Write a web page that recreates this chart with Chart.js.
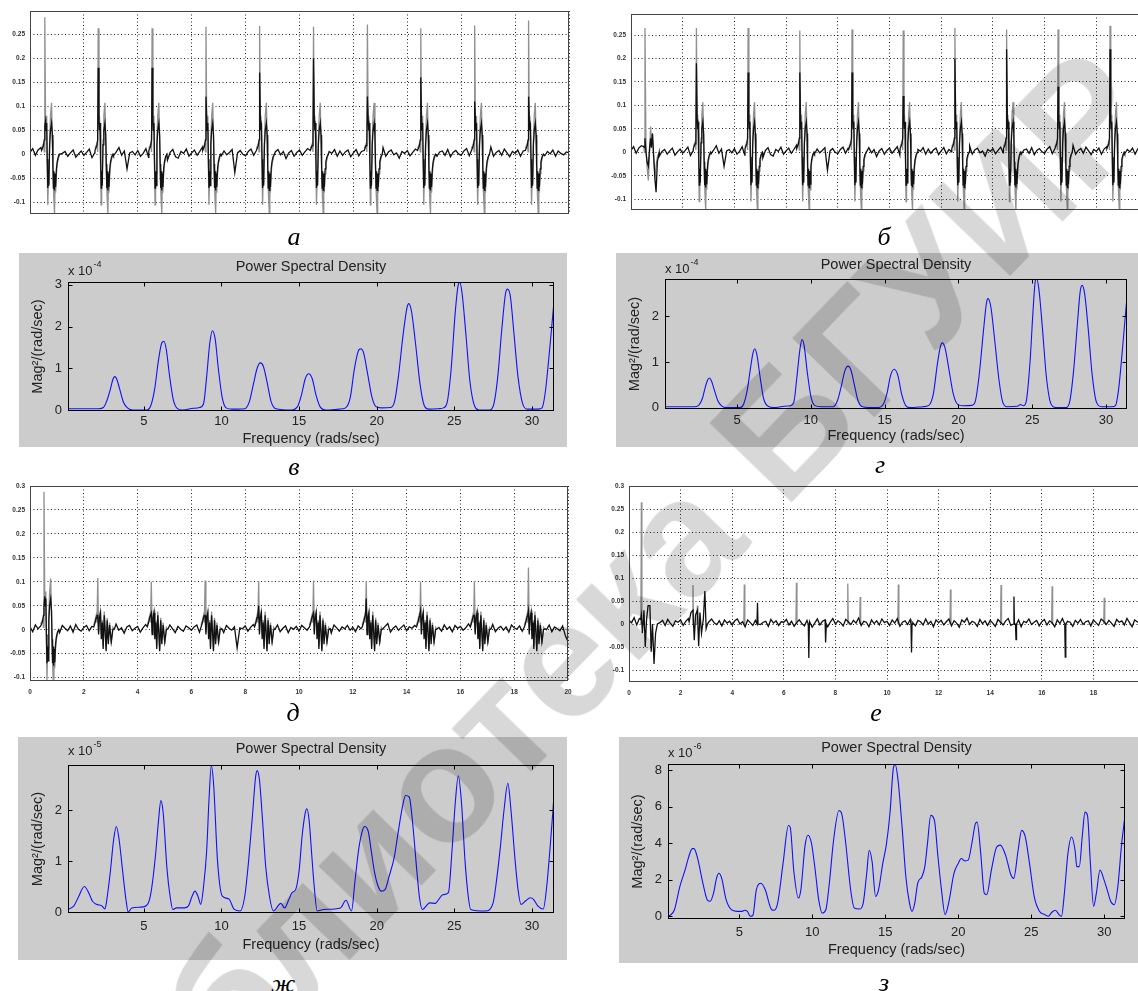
<!DOCTYPE html>
<html>
<head>
<meta charset="utf-8">
<script src="https://cdn.jsdelivr.net/npm/chart.js@4.4.1/dist/chart.umd.min.js"></script>
<style>
html, body { margin: 0; padding: 0; background: #fff; }
body { width: 1138px; height: 991px; overflow: hidden; position: relative; }
.panel { position: absolute; }
.psd { background: #cccccc; }
.cap { position: absolute; transform: translate(-50%, -50%); font-family: "Liberation Serif", "Times New Roman", serif; font-style: italic; font-size: 26px; color: #000; }
#wm { position: absolute; left: 580px; top: 640px; transform: translate(-50%, -50%) rotate(-46deg);
      font: bold 165px "Liberation Sans", Arial, sans-serif; color: #d8d8d8; white-space: nowrap;
      mix-blend-mode: multiply; pointer-events: none; z-index: 10; }
</style>
</head>
<body>
<div class="panel" style="left:0;top:0;width:580px;height:230px"><canvas id="cA"></canvas></div>
<div class="panel" style="left:580px;top:0;width:580px;height:230px"><canvas id="cB"></canvas></div>
<div class="panel psd" style="left:19px;top:253px;width:548px;height:194px"><canvas id="cV"></canvas></div>
<div class="panel psd" style="left:616px;top:253px;width:544px;height:194px"><canvas id="cG"></canvas></div>
<div class="panel" style="left:0;top:470px;width:580px;height:240px"><canvas id="cD"></canvas></div>
<div class="panel" style="left:580px;top:470px;width:580px;height:240px"><canvas id="cE"></canvas></div>
<div class="panel psd" style="left:18px;top:737px;width:549px;height:223px"><canvas id="cZh"></canvas></div>
<div class="panel psd" style="left:619px;top:737px;width:541px;height:226px"><canvas id="cZ"></canvas></div>

<div class="cap" style="left:294px;top:237px">а</div>
<div class="cap" style="left:884px;top:237px">б</div>
<div class="cap" style="left:294px;top:467px">в</div>
<div class="cap" style="left:880px;top:465px">г</div>
<div class="cap" style="left:293px;top:713px">д</div>
<div class="cap" style="left:876px;top:713px">е</div>
<div class="cap" style="left:283px;top:984px">ж</div>
<div class="cap" style="left:884px;top:983px">з</div>
<div id="wm">Библиотека БГУИР</div>

<script>
// ---------- ECG traces (а, б, д, е): time 0..20 s ----------
// baseline samples every 0.1 s, in thousandths
const noiseStep = 0.1;
const noiseAB = [
  4, 12, -2, 9, 14, 3, -5, 8, 0, 5, -3, -8, 2, 6, -4, 3, 9, -6, 1, 7,
  -2, 4, 11, -7, 3, 8, -1, 6, -10, 2, 9, -3, 5, 14, -2, 7, -30, 3, 6, -1,
  8, -4, 2, 12, -6, 5, 1, 9, -3, 7, 3, -12, 4, 10, -5, -8, 6, 2, 11, -4,
  3, 9, -2, 6, 15, -4, 8, 1, -7, 5, 12, -3, 7, -1, 4, 10, -38, 3, 8, 0,
  -3, 6, 11, -2, 9, 4, -8, 7, 2, 13, -5, 5, 10, -1, 6, -9, 3, 8, -4, 4,
  9, -2, 5, 12, -6, 3, 8, -1, 11, 4, -7, 6, 2, 10, -4, 7, -2, 5, 9, -5,
  3, 10, -3, 6, 1, 8, -5, 12, 4, -2, 7, 14, -4, 5, 9, -1, 3, -8, 6, 2,
  8, -3, 4, 11, -1, 6, 3, -6, 9, 2, 12, -4, 5, 7, -2, 10, -5, 4, 8, 1,
  -2, 7, 12, -3, 5, 9, -6, 3, 10, -1, 6, 15, -4, 4, 8, -2, 11, 3, -5, 6,
  2, 9, -4, 7, 12, 3, -2, 8, -6, 5, 13, -3, 6, 1, 9, -4, 7, 2, -1, 5,
  3
];
const noiseD = [
  6, -4, 10, 2, -8, 5, 12, -3, 7, 0, 4, -6, 9, 3, -2, 8, -5, 11, 1, -3,
  5, 9, -2, 7, -6, 3, 10, -4, 6, 1, 8, -3, 12, -1, 4, -7, 6, 9, -2, 3,
  7, -5, 4, 11, -2, 6, -8, 3, 9, 0, 5, -4, 10, 2, -6, 7, 1, -3, 8, 4,
  -1, 6, 10, -5, 3, 8, -2, 5, 12, -4, 2, 7, -6, 9, 3, -1, 6, -38, 4, 2,
  8, -3, 5, 11, -1, 7, -5, 4, 9, 2, -2, 6, 10, -4, 3, 8, -6, 5, 1, 7,
  -3, 9, 4, -1, 7, 12, -5, 3, 6, -2, 8, 1, -7, 10, 4, -3, 6, 2, 9, -1,
  5, -4, 8, 2, 11, -2, 6, -6, 4, 9, 1, -3, 7, 13, -5, 3, 8, -1, 5, 10,
  -2, 6, 3, 9, -5, 4, 11, -1, 7, 2, -6, 8, 5, -3, 10, 1, 6, -4, 9, 3,
  7, -1, 4, 12, -3, 6, 2, -7, 9, 5, -2, 8, 11, -4, 3, 7, -1, 6, -5, 10,
  4, 1, 8, -3, 6, 11, -2, 5, 9, -6, 3, 7, 0, 10, -4, 6, 2, -2, 8, -12,
  -25
];
const noiseE = [
  8, 3, 14, -2, 12, 6, -4, 9, 1, 5, 11, -6, 3, 8, -3, 10, 2, -5, 7, 4,
  9, -3, 6, 12, 1, -7, 5, 10, -2, 4, 8, -5, 11, 3, -1, 7, -4, 9, 2, 6,
  -2, 7, 11, 0, 5, -6, 9, 3, -3, 8, 12, -1, 4, 6, -5, 10, 2, 7, -3, 5,
  4, 10, -2, 6, -5, 3, 9, 1, -4, 8, 5, -7, 2, 11, -2, 6, 9, -6, 4, 12,
  0, 7, 3, -4, 10, 5, -1, 8, 2, 13, -3, 6, 4, -6, 9, 1, 7, -2, 11, 3,
  6, -3, 9, 2, 12, -5, 4, 7, -1, 10, 3, -4, 8, 5, -2, 11, 0, 6, -6, 9,
  3, 8, -2, 5, 11, -4, 7, 2, -7, 9, 4, 13, -1, 6, 3, -5, 10, 1, 7, -3,
  8, 2, -5, 10, 4, -2, 7, 12, -3, 5, 1, 9, -6, 6, 3, 11, -1, 4, 8, -4,
  5, 10, -2, 7, 3, -6, 9, 1, 12, -3, 6, 4, -5, 8, 2, 10, -1, 5, 7, -4,
  9, 3, -3, 11, 6, -1, 8, 2, -5, 10, 4, 7, -2, 12, 3, -6, 9, 5, 1, 8,
  4
];

// QRS complex of the full ECG (а, б): offsets from the R spike (s); null = beat's own peak
const tplABOff   = [-0.12, -0.05, -0.02, 0, 0.03, 0.05, 0.07, 0.09, 0.11, 0.13, 0.15, 0.18, 0.21, 0.25, 0.28, 0.3, 0.32, 0.34, 0.36, 0.38, 0.4, 0.43, 0.46, 0.5, 0.55];
const tplABGrey  = [0.012, 0.022, 0.005, null, 0.05, 0.08, 0.04, -0.03, -0.105, -0.06, -0.04, 0.03, 0.08, 0.107, 0.03, -0.03, -0.07, -0.1, -0.123, -0.06, -0.08, -0.04, -0.02, -0.01, 0.002];
const tplABBlack = [0.008, 0.018, 0.03, null, 0.07, 0.05, 0.065, -0.01, -0.07, -0.035, -0.065, 0.02, 0.05, 0.065, 0.04, -0.02, -0.07, -0.035, -0.075, -0.04, -0.068, -0.03, -0.015, -0.005, 0.0];

// а
const beatTimesA  = [0.55, 2.53, 4.53, 6.53, 8.52, 10.52, 12.52, 14.5, 16.5, 18.5];
const peaksAGrey  = [0.285, 0.262, 0.262, 0.265, 0.267, 0.265, 0.27, 0.262, 0.268, 0.278];
const peaksABlack = [0.06, 0.18, 0.18, 0.12, 0.17, 0.2, 0.12, 0.16, 0.11, 0.12];

// б (first complex differs)
const beatTimesB  = [2.53, 4.53, 6.53, 8.55, 10.53, 12.53, 14.53, 16.52, 18.53];
const peaksBGrey  = [0.265, 0.265, 0.26, 0.262, 0.26, 0.265, 0.262, 0.262, 0.27];
const peaksBBlack = [0.19, 0.17, 0.17, 0.17, 0.12, 0.2, 0.22, 0.14, 0.22];
const firstBTime  = 0.54;
const firstBOff   = [-0.05, -0.02, 0, 0.04, 0.08, 0.13, 0.18, 0.22, 0.25, 0.29, 0.34, 0.39, 0.43, 0.48, 0.55];
const firstBGrey  = [0.015, 0.0, 0.265, 0.01, -0.03, -0.06, 0.0, 0.055, 0.02, 0.04, -0.02, -0.05, -0.03, -0.01, 0.0];
const firstBBlack = [0.012, 0.01, 0.03, 0.0, -0.02, -0.03, 0.01, 0.03, 0.01, 0.04, -0.01, -0.06, -0.085, -0.02, 0.0];

// д: residual, small spike + irregular burst
const firstDTime  = 0.52;
const firstDGrey  = 0.288;
const firstDBlack = 0.05;
const tplDOff   = [-0.15, -0.1, -0.06, -0.03, 0, 0.03, 0.06, 0.1, 0.13, 0.17, 0.2, 0.24, 0.28, 0.31, 0.35, 0.39, 0.44, 0.5, 0.56, 0.62];
const tplDGrey  = [0.01, 0.02, 0.03, 0.015, null, -0.005, 0.03, 0.04, -0.01, 0.02, -0.035, 0.038, 0.0, -0.04, 0.025, -0.02, 0.015, -0.03, 0.005, 0.0];
const tplDBlack = [0.006, 0.015, 0.025, 0.03, null, -0.01, 0.025, 0.035, -0.02, 0.015, -0.04, 0.03, -0.01, -0.045, 0.02, -0.03, 0.01, -0.025, 0.0, 0.002];
const beatTimesD  = [2.52, 4.51, 6.51, 8.5, 10.54, 12.5, 14.52, 16.52, 18.53];
const peaksDGrey  = [0.108, 0.1, 0.103, 0.102, 0.103, 0.102, 0.1, 0.102, 0.13];
const peaksDBlack = [0.03, 0.035, 0.03, 0.05, 0.035, 0.065, 0.04, 0.03, 0.04];

// е: residual after second stage, isolated spikes
const firstETime  = 0.48;
const firstEOff   = [-0.03, 0, 0.04, 0.1, 0.15, 0.2, 0.26, 0.33, 0.38, 0.43, 0.49, 0.55, 0.62];
const firstEBlack = [0.01, 0.02, -0.02, 0.03, -0.05, 0.01, 0.04, 0.04, -0.06, 0.0, -0.087, -0.02, 0.0];
const burstETime  = 2.48;
const burstEOff   = [-0.15, -0.08, 0, 0.05, 0.1, 0.17, 0.22, 0.27, 0.33, 0.4, 0.46, 0.51, 0.56, 0.62];
const burstEBlack = [0.005, 0.025, 0.03, -0.035, 0.02, 0.03, -0.048, 0.025, -0.02, 0.01, 0.072, -0.01, 0.0, 0.005];
const spikesEBlack = [[4.98, 0.046], [6.97, -0.074], [7.63, -0.04], [10.95, -0.062], [14.92, 0.06], [15.0, -0.034], [16.91, -0.072]];
const spikesEGrey  = [[0.48, 0.265], [2.48, 0.085], [2.65, 0.04], [4.47, 0.086], [6.49, 0.09], [8.48, 0.088], [8.96, 0.059],
                      [10.44, 0.086], [12.46, 0.075], [14.42, 0.085], [16.4, 0.082], [18.42, 0.057]];

// ---------- Power spectral density (x: rad/s, y in units of the axis multiplier) ----------
const psdTitle = 'Power Spectral Density';
const psdXLabel = 'Frequency (rads/sec)';
const psdYLabel = 'Mag²/(rad/sec)';
const freqTicks = [5, 10, 15, 20, 25, 30];

// в, x 10^-4
const psdV = [[0.12,0.03],[2.1,0.03],[2.4,0.06],[2.6,0.2],[2.85,0.5],[3.0,0.72],[3.12,0.8],[3.25,0.75],[3.45,0.5],[3.7,0.18],[3.95,0.05],[4.3,0.0],
  [5.2,0.0],[5.45,0.1],[5.7,0.5],[5.95,1.2],[6.15,1.6],[6.3,1.65],[6.45,1.45],[6.65,0.85],[6.9,0.25],[7.15,0.04],[7.5,0.0],
  [8.2,0.04],[8.6,0.06],[8.85,0.15],[9.05,0.8],[9.25,1.6],[9.42,1.9],[9.6,1.7],[9.8,1.0],[10.05,0.3],[10.3,0.05],[10.7,0.02],
  [11.5,0.03],[11.8,0.2],[12.05,0.6],[12.3,1.0],[12.5,1.13],[12.7,1.05],[12.95,0.65],[13.2,0.2],[13.5,0.03],
  [14.5,0.0],[14.9,0.08],[15.15,0.35],[15.4,0.75],[15.62,0.87],[15.85,0.75],[16.1,0.35],[16.35,0.08],[16.7,0.0],
  [17.6,0.02],[18.0,0.05],[18.3,0.3],[18.55,0.95],[18.8,1.4],[18.97,1.47],[19.15,1.38],[19.4,0.9],[19.7,0.3],[19.95,0.08],
  [20.3,0.05],[20.9,0.06],[21.15,0.2],[21.4,0.8],[21.7,1.8],[21.95,2.45],[22.07,2.55],[22.25,2.35],[22.5,1.6],[22.8,0.6],[23.05,0.12],[23.35,0.02],
  [24.0,0.03],[24.3,0.05],[24.55,0.2],[24.8,1.0],[25.05,2.3],[25.25,3.0],[25.35,3.06],[25.5,2.8],[25.75,1.8],[26.0,0.7],[26.3,0.1],[26.6,0.0],
  [27.3,0.0],[27.55,0.15],[27.8,0.8],[28.05,1.9],[28.3,2.8],[28.42,2.9],[28.6,2.75],[28.85,1.8],[29.1,0.8],[29.4,0.15],[29.7,0.02],
  [30.4,0.02],[30.65,0.05],[30.85,0.4],[31.05,1.1],[31.25,1.9],[31.42,2.6]];

// г, x 10^-4
const psdG = [[0.12,0.02],[2.1,0.02],[2.4,0.05],[2.65,0.2],[2.85,0.45],[3.0,0.6],[3.12,0.65],[3.25,0.6],[3.45,0.4],[3.7,0.15],[3.95,0.04],[4.3,0.0],
  [5.2,0.0],[5.45,0.08],[5.7,0.4],[5.95,0.95],[6.1,1.22],[6.2,1.29],[6.35,1.15],[6.55,0.7],[6.8,0.2],[7.1,0.03],[7.5,0.0],
  [8.2,0.03],[8.6,0.04],[8.85,0.12],[9.05,0.65],[9.25,1.25],[9.4,1.49],[9.55,1.35],[9.75,0.8],[10.0,0.25],[10.25,0.05],[10.7,0.02],
  [11.5,0.02],[11.8,0.15],[12.05,0.45],[12.3,0.8],[12.52,0.91],[12.72,0.82],[12.95,0.5],[13.2,0.15],[13.5,0.02],
  [14.5,0.0],[14.9,0.07],[15.15,0.3],[15.4,0.7],[15.65,0.84],[15.9,0.7],[16.15,0.3],[16.4,0.06],[16.7,0.0],
  [17.6,0.02],[18.0,0.05],[18.3,0.3],[18.55,0.9],[18.75,1.3],[18.9,1.42],[19.1,1.3],[19.35,0.85],[19.65,0.3],[19.95,0.07],
  [20.3,0.04],[20.9,0.05],[21.15,0.15],[21.4,0.7],[21.7,1.7],[21.9,2.3],[22.0,2.39],[22.2,2.2],[22.45,1.5],[22.75,0.6],[23.0,0.12],[23.3,0.02],
  [24.0,0.03],[24.2,0.07],[24.4,0.04],[24.6,0.15],[24.85,1.0],[25.05,2.1],[25.22,2.8],[25.3,2.82],[25.45,2.6],[25.7,1.7],[25.95,0.7],[26.25,0.1],[26.6,0.0],
  [27.3,0.0],[27.55,0.15],[27.8,0.8],[28.05,1.8],[28.25,2.55],[28.38,2.68],[28.55,2.5],[28.8,1.7],[29.05,0.75],[29.35,0.12],[29.7,0.02],
  [30.4,0.02],[30.65,0.05],[30.85,0.4],[31.05,1.05],[31.25,1.8],[31.42,2.42]];

// ж, x 10^-5
const psdZh = [[0.12,0.05],[0.5,0.12],[0.8,0.3],[1.17,0.5],[1.45,0.38],[1.7,0.21],[1.95,0.15],[2.3,0.12],[2.5,0.06],
  [2.6,0.2],[2.85,0.8],[3.05,1.4],[3.23,1.68],[3.4,1.45],[3.63,0.83],[3.85,0.25],[4.0,0.0],
  [4.23,0.08],[4.95,0.1],[5.3,0.18],[5.5,0.45],[5.75,1.1],[5.95,1.8],[6.1,2.19],[6.25,1.95],[6.5,0.83],[6.7,0.3],[6.87,0.05],
  [7.1,0.08],[7.6,0.08],[7.88,0.12],[8.1,0.3],[8.3,0.41],[8.5,0.3],[8.67,0.15],
  [8.85,0.5],[9.05,1.2],[9.2,2.2],[9.35,2.88],[9.5,2.5],[9.75,1.0],[10.06,0.31],[10.47,0.26],[10.83,0.05],[11.2,0.02],
  [11.5,0.3],[11.75,1.0],[12.0,1.9],[12.2,2.65],[12.3,2.78],[12.45,2.6],[12.65,1.8],[12.85,0.9],[13.1,0.3],[13.35,0.02],
  [13.83,0.17],[14.07,0.08],[14.35,0.25],[14.55,0.38],[14.78,0.44],[15.0,0.8],[15.2,1.5],[15.4,1.95],[15.5,2.03],[15.65,1.8],[15.8,1.2],[15.95,0.6],[16.17,0.02],
  [16.58,0.05],[17.67,0.08],[18.02,0.23],[18.38,0.02],
  [18.6,0.6],[18.85,1.25],[19.1,1.62],[19.22,1.68],[19.46,1.58],[19.65,1.2],[19.85,0.8],[20.1,0.5],[20.3,0.41],[20.54,0.44],[20.8,0.7],
  [21.14,1.09],[21.4,1.6],[21.65,2.05],[21.86,2.29],[22.1,2.26],[22.3,1.8],[22.58,0.83],[22.75,0.3],[22.94,0.05],
  [23.42,0.18],[23.78,0.17],[24.0,0.25],[24.26,0.34],[24.62,0.38],[24.85,1.2],[25.05,2.1],[25.26,2.68],[25.45,2.2],[25.7,0.96],[25.9,0.3],[26.05,0.05],[27.0,0.02],
  [27.5,0.18],[27.75,0.7],[27.97,1.29],[28.2,2.0],[28.45,2.53],[28.65,2.0],[28.93,0.96],[29.1,0.45],[29.29,0.15],[29.6,0.22],[29.89,0.28],[30.1,0.25],
  [30.37,0.12],[30.73,0.06],[30.95,0.5],[31.15,1.2],[31.33,1.9],[31.42,2.3]];

// з, x 10^-6
const psdZ = [[0.12,0.0],[0.32,0.09],[0.56,0.36],[0.93,1.63],[1.29,2.54],[1.54,3.26],[1.78,3.71],[1.9,3.71],[2.15,3.17],[2.51,1.81],[2.83,0.87],
  [3.0,0.82],[3.24,1.27],[3.44,2.08],[3.61,2.36],[3.8,2.08],[4.1,0.91],[4.46,0.36],[4.83,0.27],[5.2,0.27],[5.37,0.33],[5.56,0.27],[5.76,0.0],
  [5.93,0.04],[6.17,1.45],[6.49,1.81],[6.78,1.45],[7.22,0.36],[7.39,0.33],[7.63,0.72],[8.0,2.9],[8.37,4.98],[8.49,4.89],[8.73,2.54],[9.05,1.0],
  [9.22,1.45],[9.51,3.9],[9.71,4.44],[9.95,3.99],[10.2,2.54],[10.44,0.91],[10.68,0.18],[10.93,0.36],[11.17,1.81],[11.46,4.17],[11.83,5.8],
  [12.02,5.62],[12.27,4.17],[12.63,1.45],[12.88,0.45],[13.24,0.4],[13.49,0.72],[13.73,2.36],[13.9,3.62],[14.1,2.99],[14.34,1.09],[14.54,1.45],
  [14.83,2.9],[15.07,3.9],[15.32,5.62],[15.56,8.15],[15.68,8.33],[15.88,7.43],[16.17,4.71],[16.41,2.17],[16.66,0.72],[16.83,0.27],[17.02,0.72],
  [17.22,1.81],[17.51,2.17],[17.71,2.72],[17.88,3.9],[18.12,5.53],[18.37,5.25],[18.61,3.26],[18.85,1.45],[19.1,0.09],[19.34,0.72],[19.71,2.36],
  [20.0,2.9],[20.2,3.17],[20.44,3.04],[20.68,3.08],[20.93,3.99],[21.17,5.07],[21.29,5.16],[21.54,3.44],[21.78,1.27],[21.95,1.18],[22.27,2.54],
  [22.63,3.8],[22.88,3.9],[23.24,3.35],[23.61,2.26],[23.8,2.08],[24.1,3.62],[24.34,4.71],[24.59,4.35],[24.88,2.9],[25.2,1.09],[25.56,0.27],
  [25.93,0.09],[26.17,0.0],[26.41,0.22],[26.66,0.33],[26.9,0.09],[27.07,0.0],[27.27,1.27],[27.51,3.44],[27.76,4.35],[28.0,3.62],[28.12,2.72],
  [28.29,2.72],[28.49,4.35],[28.68,5.71],[28.85,5.53],[29.05,2.9],[29.27,0.54],[29.46,1.27],[29.71,2.54],[29.95,2.08],[30.2,1.45],[30.44,0.82],
  [30.68,0.63],[30.93,1.63],[31.17,3.8],[31.42,5.53]];

// ---------- helpers ----------
const sans = '"Liberation Sans", Arial, sans-serif';
Chart.defaults.font.family = sans;

function beatEvents(times, peaks, off, tpl) {
  return times.map((t0, i) => ({ t0, off, val: tpl.map(v => v === null ? peaks[i] : v) }));
}
function spikeEvents(list) {
  return list.map(([t, v]) => ({ t0: t, off: [-0.02, 0, 0.02], val: [0.0, v, 0.0] }));
}
// baseline with the event windows written over it
function withBaseline(noise, events) {
  const pts = [];
  noise.forEach((v, i) => {
    const t = i * noiseStep;
    const covered = events.some(e => t >= e.t0 + e.off[0] && t <= e.t0 + e.off[e.off.length - 1]);
    if (!covered) pts.push({ x: t, y: v / 1000 });
  });
  events.forEach(e => e.off.forEach((o, k) => pts.push({ x: e.t0 + o, y: e.val[k] })));
  return pts.sort((p, q) => p.x - q.x);
}
// only the event windows, broken by gaps
function windowsOnly(events) {
  const pts = [];
  events.slice().sort((a, b) => a.t0 - b.t0).forEach(e => {
    e.off.forEach((o, k) => pts.push({ x: e.t0 + o, y: e.val[k] }));
    pts.push({ x: e.t0 + e.off[e.off.length - 1] + 0.001, y: null });
  });
  return pts;
}

const framePlugin = {
  id: 'frame',
  afterDatasetsDraw(chart, args, o) {
    const { ctx, chartArea: a, scales } = chart;
    const l = Math.round(a.left) + 0.5, t = Math.round(a.top) + 0.5;
    const r = Math.round(a.right) - 0.5, b = Math.round(a.bottom) - 0.5;
    ctx.save();
    ctx.setLineDash([]);
    ctx.lineWidth = 1;
    ctx.strokeStyle = o.color || '#000';
    ctx.strokeRect(l, t, r - l, b - t);
    if (o.ticks) {
      const L = 4;
      ctx.beginPath();
      scales.x.ticks.forEach(tk => {
        const px = Math.round(scales.x.getPixelForValue(tk.value)) + 0.5;
        ctx.moveTo(px, b); ctx.lineTo(px, b - L);
        ctx.moveTo(px, t); ctx.lineTo(px, t + L);
      });
      scales.y.ticks.forEach(tk => {
        const py = Math.round(scales.y.getPixelForValue(tk.value)) + 0.5;
        ctx.moveTo(l, py); ctx.lineTo(l + L, py);
        ctx.moveTo(r, py); ctx.lineTo(r - L, py);
      });
      ctx.stroke();
    }
    ctx.restore();
  }
};

const psdTextPlugin = {
  id: 'psdText',
  afterDraw(chart, args, o) {
    const { ctx, chartArea: a } = chart;
    const cx = (a.left + a.right) / 2;
    ctx.save();
    ctx.fillStyle = '#222';
    ctx.textBaseline = 'middle';
    ctx.textAlign = 'center';
    ctx.font = '14.5px ' + sans;
    ctx.fillText(psdTitle, cx, a.top + o.titleDy);
    ctx.fillText(psdXLabel, cx, a.bottom + o.xLabelDy);
    ctx.textAlign = 'left';
    ctx.font = '13px ' + sans;
    ctx.fillText('x 10', a.left, a.top + o.expDy);
    const w = ctx.measureText('x 10').width;
    ctx.font = '9px ' + sans;
    ctx.fillText(o.exp, a.left + w + 1, a.top + o.expDy - 6);
    ctx.font = '14.5px ' + sans;
    ctx.translate(a.left + o.yLabelDx, (a.top + a.bottom) / 2);
    ctx.rotate(-Math.PI / 2);
    ctx.textAlign = 'center';
    ctx.fillText(psdYLabel, 0, 0);
    ctx.restore();
  }
};

function ecgChart(id, datasets, c) {
  const gridOpts = { color: 'rgba(0,0,0,0.85)', lineWidth: 1, drawTicks: false };
  const tickFont = { family: sans, size: 6.5, weight: 'bold' };
  return new Chart(document.getElementById(id), {
    type: 'line',
    data: { datasets },
    options: {
      responsive: true, maintainAspectRatio: false, animation: false, events: [],
      layout: { padding: { left: 0, top: c.padTop, right: c.padRight, bottom: 0 } },
      plugins: { legend: { display: false }, tooltip: { enabled: false }, frame: { color: '#444' } },
      elements: { point: { radius: 0 }, line: { tension: 0 } },
      scales: {
        x: {
          type: 'linear', min: 0, max: 20,
          afterFit: s => { s.height = c.xH; },
          grid: gridOpts, border: { display: false, dash: [1, 2.5] },
          ticks: { display: c.xLabels, stepSize: 2, autoSkip: false, maxRotation: 0, padding: c.xPad || 6, font: tickFont, color: '#333' }
        },
        y: {
          type: 'linear', min: c.yMin, max: c.yMax,
          afterFit: s => { s.width = c.yW; },
          grid: gridOpts, border: { display: false, dash: [1, 2.5] },
          ticks: { stepSize: 0.05, includeBounds: false, autoSkip: false, padding: 5, font: tickFont, color: '#333',
                   callback: v => String(+v.toFixed(3)) }
        }
      }
    },
    plugins: [framePlugin]
  });
}

function ecgSets(black, grey) {
  return [
    { data: black, borderColor: '#111', borderWidth: 1.3, spanGaps: false },
    { data: grey, borderColor: '#909090', borderWidth: 1.3, spanGaps: false }
  ];
}

function psdChart(id, pairs, c) {
  const tickFont = { family: sans, size: 13 };
  return new Chart(document.getElementById(id), {
    type: 'line',
    data: { datasets: [{ data: pairs.map(([x, y]) => ({ x, y })), borderColor: '#1010ff', borderWidth: 1.1,
                         pointRadius: 0, cubicInterpolationMode: 'monotone' }] },
    options: {
      responsive: true, maintainAspectRatio: false, animation: false, events: [],
      layout: { padding: { left: 0, top: c.padTop, right: c.padRight, bottom: 0 } },
      plugins: { legend: { display: false }, tooltip: { enabled: false },
                 frame: { color: '#000', ticks: true },
                 psdText: { exp: c.exp, titleDy: c.titleDy, expDy: c.expDy, xLabelDy: c.xLabelDy, yLabelDx: -30 } },
      scales: {
        x: {
          type: 'linear', min: 0.12, max: 31.42,
          afterFit: s => { s.height = c.xH; },
          afterBuildTicks: s => { s.ticks = freqTicks.map(v => ({ value: v })); },
          grid: { display: false, drawTicks: false }, border: { display: false },
          ticks: { autoSkip: false, maxRotation: 0, padding: c.xPad, font: tickFont, color: '#222' }
        },
        y: {
          type: 'linear', min: c.yMin, max: c.yMax,
          afterFit: s => { s.width = c.yW; },
          grid: { display: false, drawTicks: false }, border: { display: false },
          ticks: { stepSize: c.yStep, includeBounds: false, autoSkip: false, padding: 6, font: tickFont, color: '#222',
                   callback: v => String(+v.toFixed(2)) }
        }
      }
    },
    plugins: [framePlugin, psdTextPlugin]
  });
}

// ---------- build ----------
const evA = beatEvents(beatTimesA, peaksABlack, tplABOff, tplABBlack);
const evAg = beatEvents(beatTimesA, peaksAGrey, tplABOff, tplABGrey);
ecgChart('cA', ecgSets(withBaseline(noiseAB, evA), windowsOnly(evAg)),
  { yMin: -0.124, yMax: 0.298, padTop: 11, padRight: 11, yW: 30, xH: 16, xLabels: false });

const evB = [{ t0: firstBTime, off: firstBOff, val: firstBBlack }].concat(beatEvents(beatTimesB, peaksBBlack, tplABOff, tplABBlack));
const evBg = [{ t0: firstBTime, off: firstBOff, val: firstBGrey }].concat(beatEvents(beatTimesB, peaksBGrey, tplABOff, tplABGrey));
ecgChart('cB', ecgSets(withBaseline(noiseAB, evB), windowsOnly(evBg)),
  { yMin: -0.123, yMax: 0.295, padTop: 14, padRight: 12, yW: 51, xH: 20, xLabels: false });

const evD = beatEvents([firstDTime], [firstDBlack], tplABOff, tplABBlack).concat(beatEvents(beatTimesD, peaksDBlack, tplDOff, tplDBlack));
const evDg = beatEvents([firstDTime], [firstDGrey], tplABOff, tplABGrey).concat(beatEvents(beatTimesD, peaksDGrey, tplDOff, tplDGrey));
ecgChart('cD', ecgSets(withBaseline(noiseD, evD), windowsOnly(evDg)),
  { yMin: -0.107, yMax: 0.3001, padTop: 16, padRight: 12, yW: 30, xH: 29, xLabels: true, xPad: 7 });

const evE = [{ t0: firstETime, off: firstEOff, val: firstEBlack }, { t0: burstETime, off: burstEOff, val: burstEBlack }].concat(spikeEvents(spikesEBlack));
ecgChart('cE', ecgSets(withBaseline(noiseE, evE), windowsOnly(spikeEvents(spikesEGrey))),
  { yMin: -0.126, yMax: 0.3001, padTop: 16, padRight: 15, yW: 49, xH: 28, xLabels: true, xPad: 7 });

psdChart('cV', psdV, { yMin: -0.025, yMax: 3.07, yStep: 1, exp: '-4', padTop: 29, padRight: 13, yW: 49, xH: 36,
  xPad: 3, titleDy: -15, expDy: -11, xLabelDy: 28 });
psdChart('cG', psdG, { yMin: -0.03, yMax: 2.82, yStep: 1, exp: '-4', padTop: 26, padRight: 33, yW: 49, xH: 38,
  xPad: 3.5, titleDy: -14, expDy: -10, xLabelDy: 27 });
psdChart('cZh', psdZh, { yMin: -0.02, yMax: 2.89, yStep: 1, exp: '-5', padTop: 28, padRight: 13, yW: 50, xH: 47,
  xPad: 6, titleDy: -16, expDy: -14, xLabelDy: 32 });
psdChart('cZ', psdZ, { yMin: -0.15, yMax: 8.35, yStep: 2, exp: '-6', padTop: 27, padRight: 35, yW: 49, xH: 44,
  xPad: 6, titleDy: -16, expDy: -11, xLabelDy: 31 });
</script>
</body>
</html>
